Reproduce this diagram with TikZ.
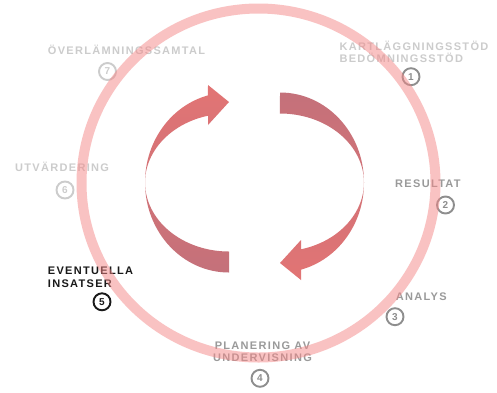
\documentclass[tikz,border=0pt]{standalone}
\usepackage{fontspec}
\setmainfont{Liberation Sans}
\newfontfamily\labfont{Liberation Sans}[LetterSpace=12]
\definecolor{lightgray}{HTML}{CCCCCC}
\definecolor{midgray}{HTML}{9A9A9A}
\definecolor{numgray}{HTML}{8E8E8E}
\definecolor{ringpink}{HTML}{F58787}
\definecolor{arrowred}{HTML}{E27474}
\definecolor{arrowmauve}{HTML}{C4717A}
\tikzset{
  lab/.style={font=\labfont\bfseries\fontsize{11}{13}\selectfont, inner sep=0pt, anchor=base west},
  labc/.style={lab, anchor=base},
  num/.style={circle, draw, line width=1.9pt, minimum size=17pt, inner sep=0pt,
    font=\bfseries\fontsize{10}{10}\selectfont},
  ring/.style={draw=ringpink, opacity=0.5, line width=10pt},
  leftarr/.style={top color=arrowred, bottom color=arrowmauve, draw=none},
  rightarr/.style={top color=arrowmauve, bottom color=arrowred, draw=none}
}
\begin{document}
\begin{tikzpicture}[x=1pt, y=-1pt]
\useasboundingbox (0,0) rectangle (497,392);
\fill[white] (0,0) rectangle (497,392);

% labels
\node[lab, text=lightgray] (t7) at (47.7,54) {ÖVERLÄMNINGSSAMTAL};
\node[num, draw=lightgray, text=lightgray] (n7) at (107.5,71.5) {7};

\node[lab, text=lightgray] (t1a) at (339.3,50) {KARTLÄGGNINGSSTÖD};
\node[lab, text=lightgray] (t1b) at (339.3,62.7) {BEDÖMNINGSSTÖD};
\node[num, draw=numgray, text=numgray] (n1) at (411,76.7) {1};

\node[lab, text=midgray] (t2) at (395,187.3) {RESULTAT};
\node[num, draw=numgray, text=numgray] (n2) at (445.5,205) {2};

\node[lab, text=midgray] (t3) at (395.7,300) {ANALYS};
\node[num, draw=numgray, text=numgray] (n3) at (395,316.7) {3};

\node[labc, text=midgray] (t4a) at (262.5,349.3) {PLANERING AV};
\node[labc, text=midgray] (t4b) at (262.5,361.7) {UNDERVISNING};
\node[num, draw=numgray, text=numgray] (n4) at (260,378.3) {4};

\node[lab, text=black!90] (t5a) at (47.7,274.7) {EVENTUELLA};
\node[lab, text=black!90] (t5b) at (47.7,287.7) {INSATSER};
\node[num, draw=black!90, text=black!90] (n5) at (102,301.8) {5};

\node[lab, text=lightgray] (t6) at (15,171.7) {UTVÄRDERING};
\node[num, draw=lightgray, text=lightgray] (n6) at (65,190) {6};

% ring
\draw[ring] (258.5,183) ellipse[x radius=177, y radius=174.5];

% arrows
\path[leftarr] (229,272.5) arc[start angle=90, end angle=255.5, x radius=84, y radius=90]
  -- (208,85) -- (229,102) -- (208,125) -- (208,115.7)
  arc[start angle=255.5, end angle=90, x radius=84, y radius=69] -- cycle;
\path[rightarr] (280,92.5) arc[start angle=270, end angle=435.5, x radius=84, y radius=90]
  -- (301,280) -- (280,263) -- (301,240) -- (301,249.3)
  arc[start angle=435.5, end angle=270, x radius=84, y radius=69] -- cycle;
\end{tikzpicture}
\end{document}
